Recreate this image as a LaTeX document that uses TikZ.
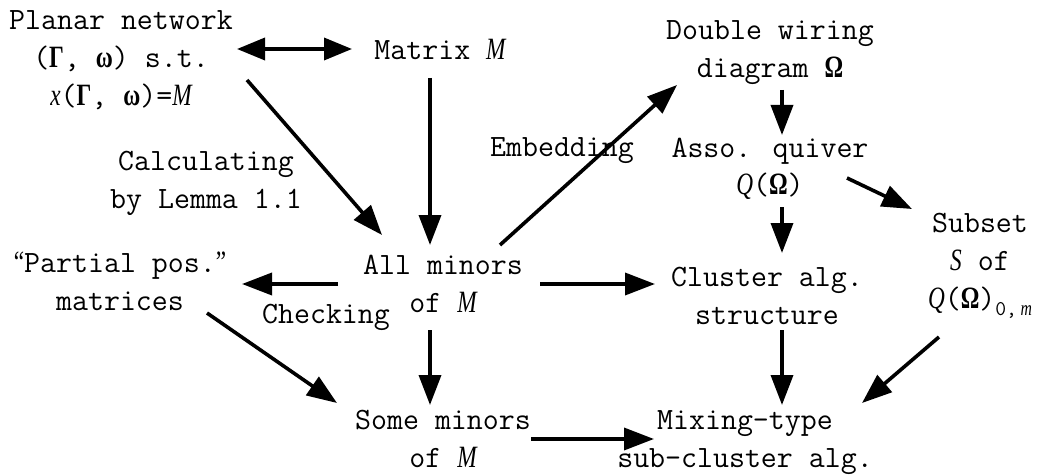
\documentclass[tikz,border=0pt]{standalone}
\usepackage{fontspec}
\newfontfamily\mi{Liberation Serif}[FakeStretch=0.75]
\usetikzlibrary{arrows.meta}
\newcommand\sx{\rule[-10pt]{0pt}{38pt}}
\newcommand\mI[1]{{\mi\itshape #1}}
\newcommand\gB[1]{{\mi\bfseries #1}}
\newcommand\qo{{\mi“}}
\newcommand\qc{{\mi”}}
\newcommand\subom{\raisebox{-7pt}{\fontsize{21}{21}\selectfont 0,\,\mI{m}}}
\begin{document}
\begin{tikzpicture}[x=1pt,y=-1pt,
  lbl/.style={inner sep=0pt, align=center, font=\ttfamily\fontsize{31}{38}\selectfont},
  arr/.style={line width=3.6pt, -{Triangle[length=30pt,width=22pt]}},
  darr/.style={line width=3.6pt, {Triangle[length=28pt,width=22pt]}-{Triangle[length=28pt,width=22pt]}}]
\path[use as bounding box, fill=white] (0,0) rectangle (1042,476);

\node[lbl] (planar) at (121,59) {\sx Planar network\\\sx(\gB{Γ}, \gB{ω}) s.t.\\\sx\mI{x}(\gB{Γ}, \gB{ω})=\mI{M}};
\node[lbl] (matrix) at (440,51) {\sx Matrix \mI{M}};
\node[lbl] (double) at (770,50) {\sx Double wiring\\\sx diagram \gB{Ω}};
\node[lbl] (calc) at (206,180) {\sx Calculating\\\sx by Lemma 1.1};
\node[lbl] (embed) at (562,148) {\sx Embedding};
\node[lbl] (asso) at (770,167) {\sx Asso. quiver\\\sx\mI{Q}(\gB{Ω})};
\node[lbl] (subset) at (980,261) {\sx Subset\\\sx\mI{S} of\\\sx\mI{Q}(\gB{Ω})\subom};
\node[lbl] (partial) at (120,282) {\sx\qo Partial pos.\qc\\\sx matrices};
\node[lbl] (check) at (326,314) {\sx Checking};
\node[lbl] (allm) at (443,284) {\sx All minors\\\sx of \mI{M}};
\node[lbl] (cluster) at (767,296) {\sx Cluster alg.\\\sx structure};
\node[lbl] (some) at (443,439) {\sx Some minors\\\sx of \mI{M}};
\node[lbl] (mix) at (745,439) {\sx Mixing-type\\\sx sub-cluster alg.};

\draw[darr] ([shift={(116,-10)}]planar.center) -- ([shift={(-88,-2)}]matrix.center);
\draw[arr] ([shift={(126,21)}]planar.center) -- ([shift={(-61,-49)}]allm.center);
\draw[arr] ([shift={(-10,27)}]matrix.center) -- ([shift={(-13,-39)}]allm.center);
\draw[arr] ([shift={(57,-39)}]allm.center) -- ([shift={(-93,35)}]double.center);
\draw[arr] ([shift={(-105,0)}]allm.center) -- ([shift={(122,2)}]partial.center);
\draw[arr] ([shift={(97,0)}]allm.center) -- ([shift={(-112,-12)}]cluster.center);
\draw[arr] ([shift={(-13,46)}]allm.center) -- ([shift={(-13,-34)}]some.center);
\draw[arr] ([shift={(87,31)}]partial.center) -- ([shift={(-106,-36)}]some.center);
\draw[arr] ([shift={(88,0)}]some.center) -- ([shift={(-91,0)}]mix.center);
\draw[arr] ([shift={(12,40)}]double.center) -- ([shift={(12,-32)}]asso.center);
\draw[arr] ([shift={(12,40)}]asso.center) -- ([shift={(15,-43)}]cluster.center);
\draw[arr] ([shift={(77,11)}]asso.center) -- ([shift={(-68,-52)}]subset.center);
\draw[arr] ([shift={(15,34)}]cluster.center) -- ([shift={(37,-34)}]mix.center);
\draw[arr] ([shift={(-41,76)}]subset.center) -- ([shift={(117,-36)}]mix.center);
\end{tikzpicture}
\end{document}
